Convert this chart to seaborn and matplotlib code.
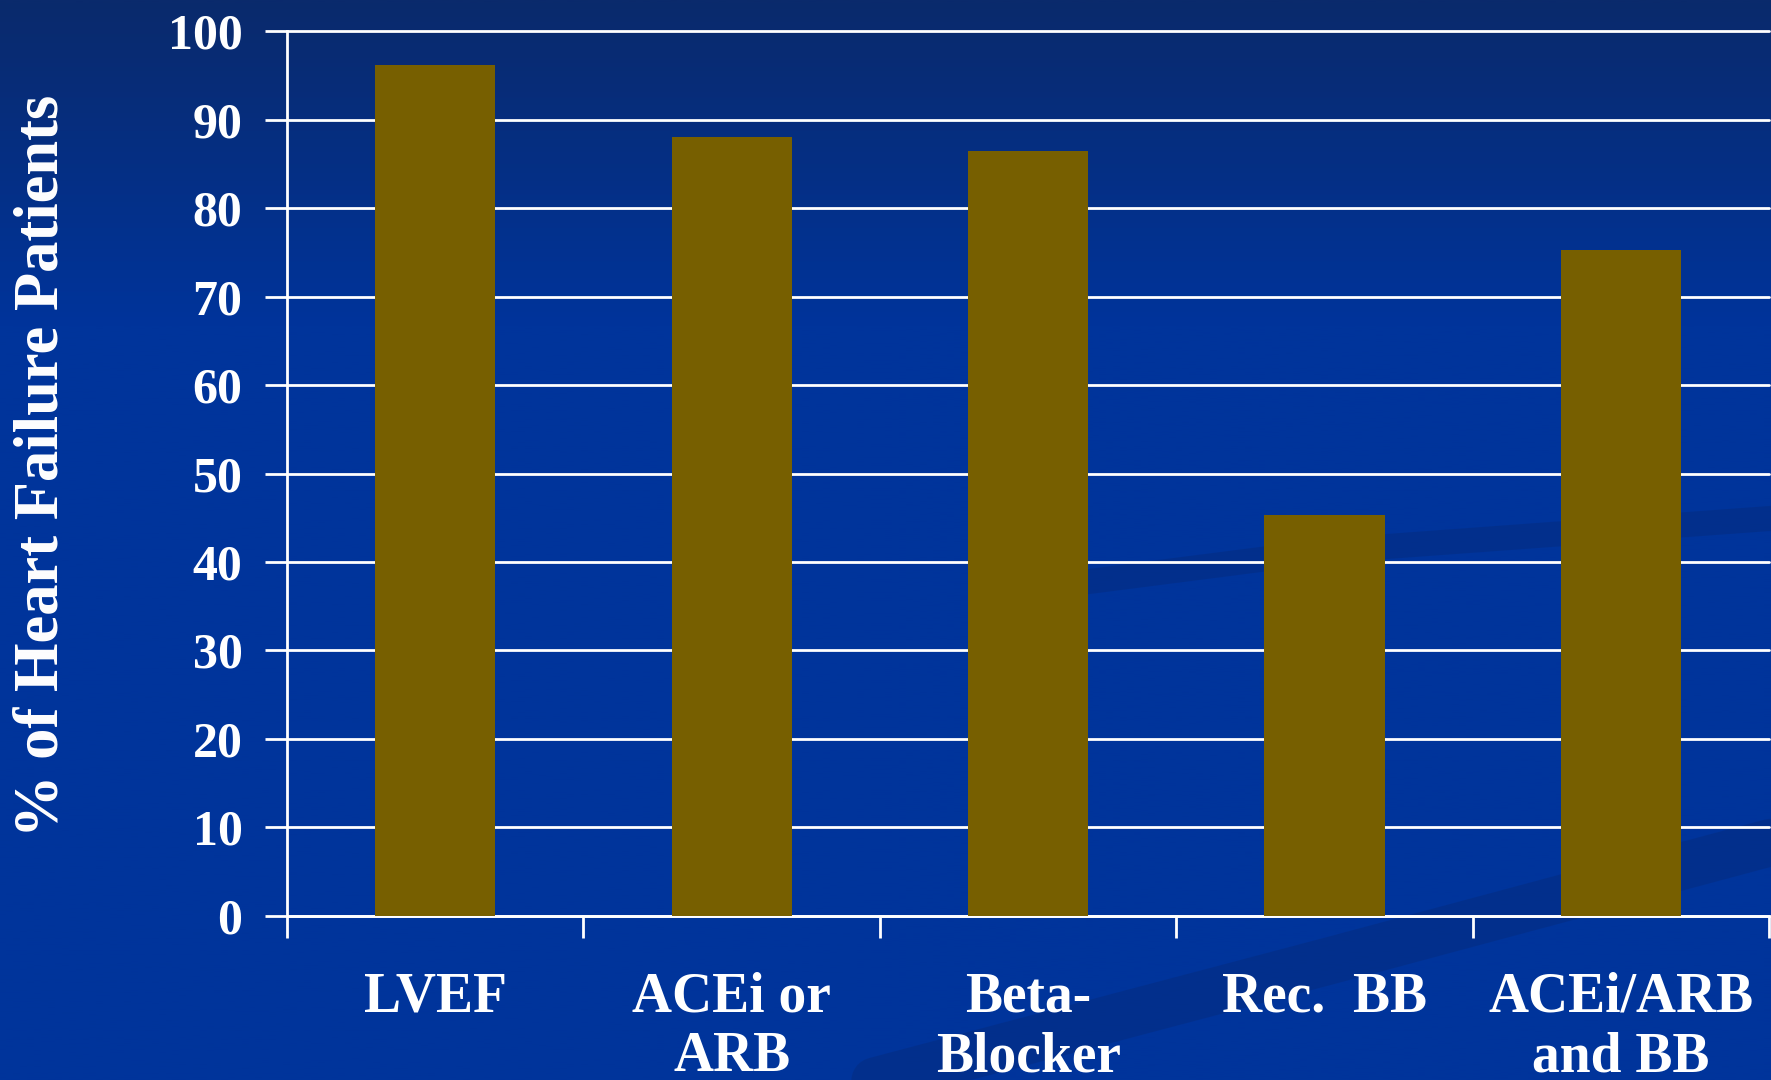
import numpy as np
import pandas as pd
import matplotlib
matplotlib.use("Agg")
import matplotlib.pyplot as plt
from matplotlib.colors import LinearSegmentedColormap
import seaborn as sns

# ---- data ----
categories = ["LVEF", "ACEi or\nARB", "Beta-\nBlocker", "Rec.  BB", "ACEi/ARB\nand BB"]
percent = [96.2, 88.0, 86.5, 45.3, 75.3]
y_ticks = list(range(0, 101, 10))

BG_TOP = "#0a2a6c"
BG_MAIN = "#00349b"
SWIRL = "#052d82"
BAR = "#775f00"

sns.set_theme(style="white")
plt.rcParams['font.family'] = ['Liberation Serif', 'DejaVu Serif']
plt.rcParams['font.weight'] = 'bold'

fig = plt.figure(figsize=(17.71, 10.80), dpi=100)

# slide background: dark navy at the top fading into royal blue
bg = fig.add_axes([0, 0, 1, 1], zorder=0)
grad = np.linspace(0, 1, 512).reshape(-1, 1)
cmap = LinearSegmentedColormap.from_list("bg", [(0, BG_TOP), (0.3, BG_MAIN), (1, BG_MAIN)])
bg.imshow(grad, aspect='auto', cmap=cmap, extent=[0, 1, 0, 1], origin='upper')
# faint decorative swirls of the slide template
bg.plot([0.56, 0.75, 1.0], [0.45, 0.49, 0.52], color=SWIRL, lw=18, alpha=0.6,
        solid_capstyle='round')
bg.plot([0.45, 0.75, 1.0], [-0.02, 0.11, 0.22], color=SWIRL, lw=34, alpha=0.6,
        solid_capstyle='round')
bg.set_xlim(0, 1)
bg.set_ylim(0, 1)
bg.axis('off')

ax = fig.add_axes([0.162, 0.152, 0.837, 0.819], zorder=1)
ax.patch.set_alpha(0)

df = pd.DataFrame({"Measure": categories, "Percent": percent})
sns.barplot(data=df, x="Measure", y="Percent", color=BAR, saturation=1,
            width=0.405, linewidth=0, ax=ax, zorder=3)

ax.set_xlim(-0.5, len(categories) - 0.5)
ax.set_ylim(0, 100)
ax.set_yticks(y_ticks)
ax.set_axisbelow(True)
ax.yaxis.grid(True, color='white', lw=2)
for gl in ax.get_ygridlines():
    gl.set_clip_on(False)

for side in ['top', 'right']:
    ax.spines[side].set_visible(False)
for side in ['left', 'bottom']:
    ax.spines[side].set_color('white')
    ax.spines[side].set_linewidth(2)

ax.tick_params(axis='y', left=True, length=16, width=2, color='white',
               labelcolor='white', labelsize=36, pad=16)
ax.set_xticks(np.arange(-0.5, len(categories), 1), minor=True)
ax.tick_params(axis='x', which='minor', bottom=True, length=16, width=2, color='white')
ax.tick_params(axis='x', which='major', length=0, pad=40, labelcolor='white', labelsize=40)
for t in ax.get_xticklabels() + ax.get_yticklabels():
    t.set_fontweight('bold')

ax.set_xlabel('')
ax.set_ylabel('')
fig.text(0.024, 0.569, "% of Heart Failure Patients", rotation=90, ha='center',
         va='center', color='white', fontsize=45, fontweight='bold')

fig.savefig("out.png", dpi=100)
